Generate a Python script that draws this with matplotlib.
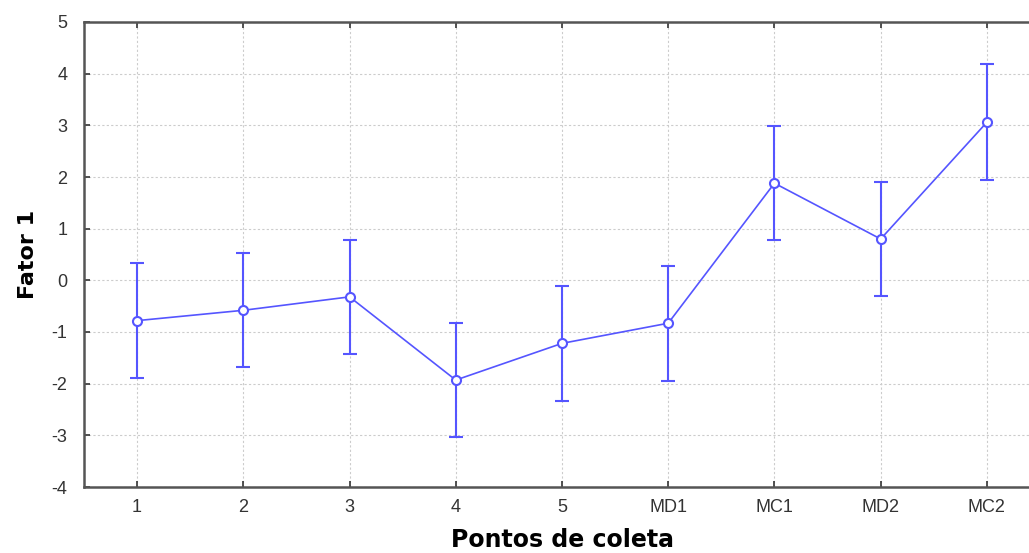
import numpy as np
import matplotlib.pyplot as plt

plt.rcParams["axes.unicode_minus"] = False

pontos = ["1", "2", "3", "4", "5", "MD1", "MC1", "MD2", "MC2"]
fator1 = [-0.78, -0.58, -0.32, -1.93, -1.22, -0.83, 1.88, 0.80, 3.06]
erro = [1.11, 1.10, 1.11, 1.11, 1.11, 1.11, 1.10, 1.10, 1.12]

fig = plt.figure(figsize=(10.29, 5.53), dpi=100)
ax = fig.add_axes([84 / 1029, 1 - 487 / 553, 956 / 1029, 465 / 553])

x = np.arange(len(pontos))
ax.errorbar(x, fator1, yerr=erro, color="#5555ff", lw=1.2, elinewidth=1.5,
            capsize=5, capthick=1.5, marker="o", ms=6.5, mfc="white",
            mec="#5555ff", mew=1.5, zorder=3)

ax.set_xlim(-0.5, 8.5)
ax.set_ylim(-4, 5)
ax.set_xticks(x)
ax.set_xticklabels(pontos)
ax.set_yticks(np.arange(-4, 6))

ax.grid(True, color="#cccccc", ls=(0, (2, 2)), lw=0.8)
ax.tick_params(direction="in", length=4, width=1.2, color="#333333",
               labelsize=13, labelcolor="#333333", top=True, pad=9)
ax.tick_params(axis="y", pad=12)
for lbl in ax.get_xticklabels() + ax.get_yticklabels():
    lbl.set_fontfamily("Liberation Sans")
for s in ax.spines.values():
    s.set_color("#555555")
    s.set_linewidth(1.8)

ax.set_xlabel("Pontos de coleta", fontsize=17, fontweight="bold", labelpad=8)
ax.set_ylabel("Fator 1", fontsize=16, fontweight="bold", labelpad=10)

fig.savefig("out.png", dpi=100)
